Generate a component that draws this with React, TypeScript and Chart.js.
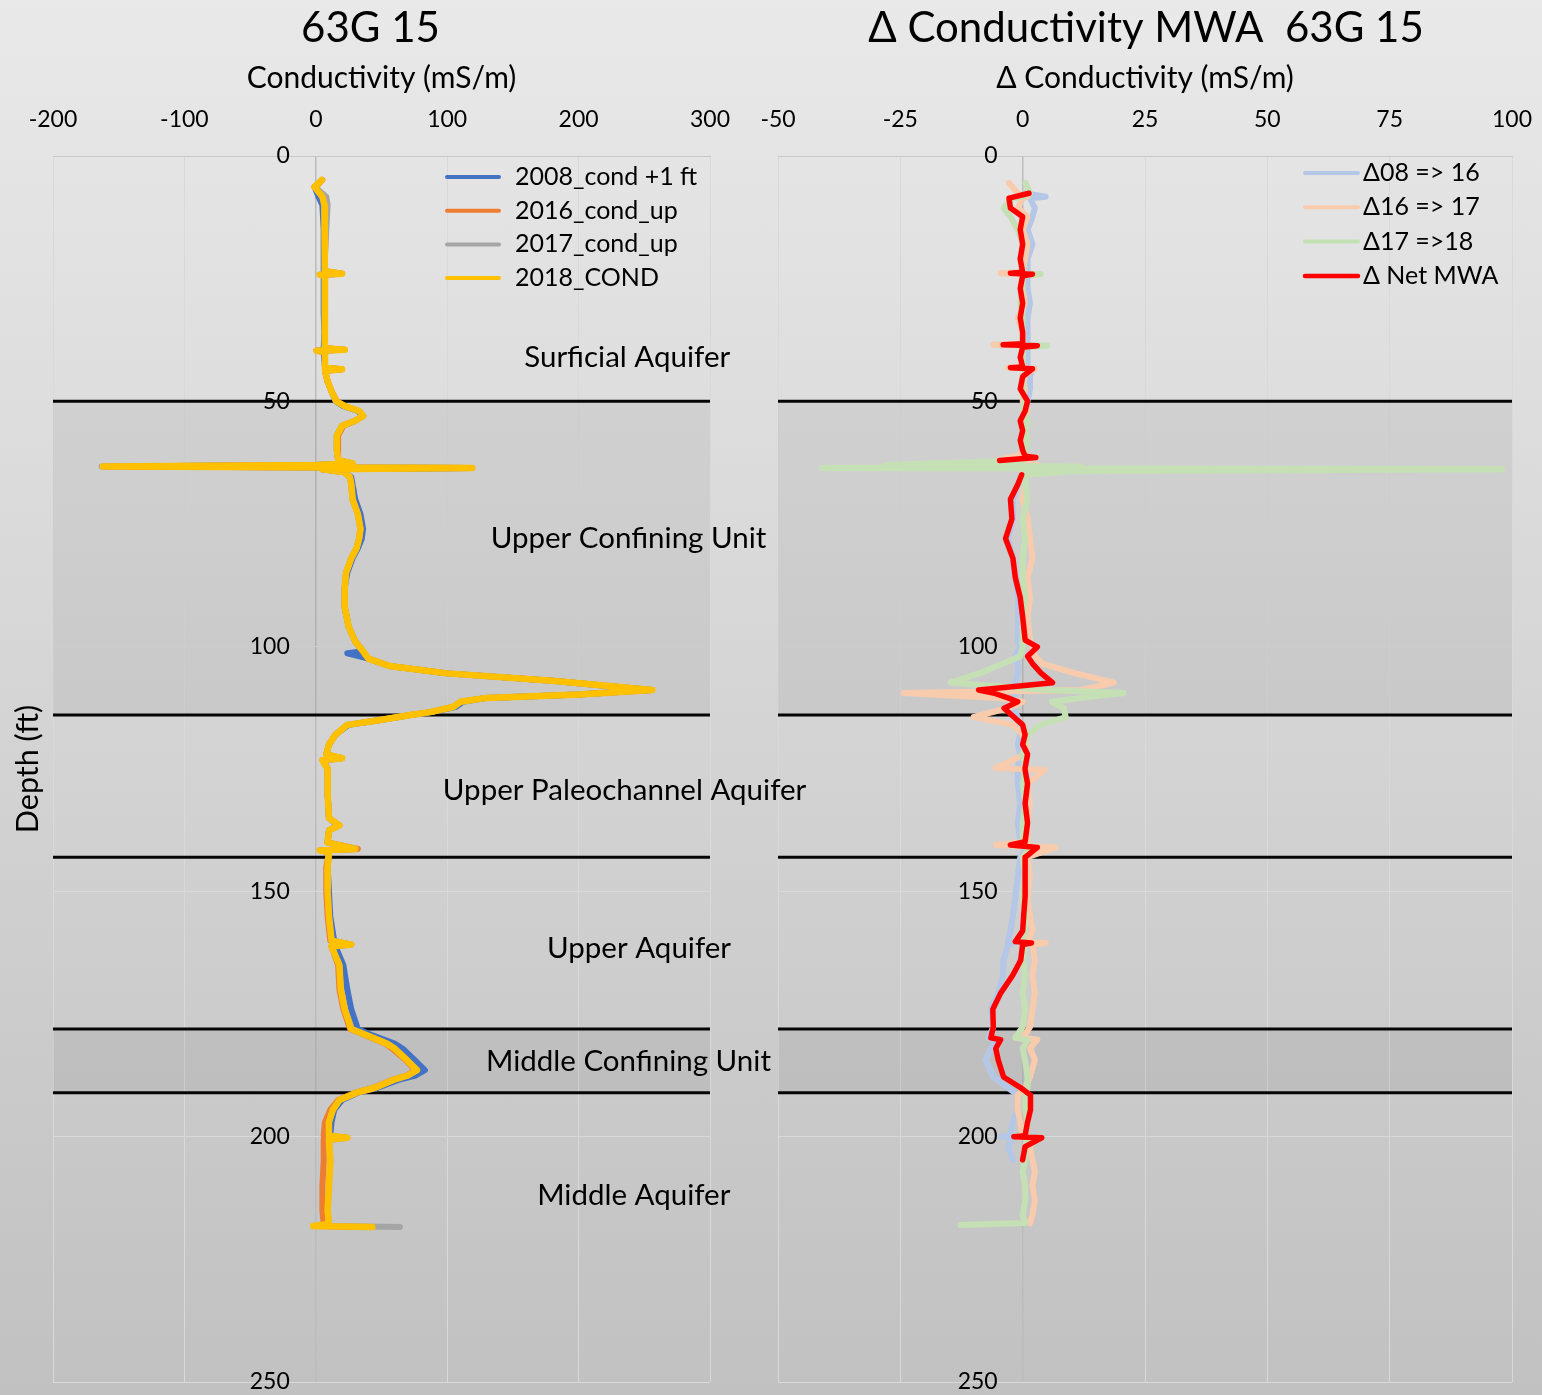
import React, { useEffect, useRef } from "react";
import { Chart, registerables } from "chart.js";

Chart.register(...registerables);

const FONT = "Lato, 'Noto Sans', sans-serif";

// ---------- Left panel: conductivity logs ----------
const L_DEPTH = [4.9, 6.3, 8.3, 10, 15, 20, 23.5, 24.0, 24.2, 24.5,
  28, 32, 36, 39.2, 39.5, 39.7, 40.0, 43.2, 43.5, 43.8,
  46, 48, 50, 51, 52, 53, 54, 55, 57, 60,
  62, 62.7, 63.0, 63.3, 63.6, 63.9, 64.5, 65.5, 67, 70,
  73, 76, 78, 80, 82, 85, 88, 92, 96, 99,
  101, 101.4, 102.5, 104, 105.5, 107, 108.9, 109.8, 110.5, 111.3,
  112.3, 113.4, 114, 115, 116, 118, 120, 122, 122.8, 123.2,
  125, 130, 135, 136.5, 137.5, 140, 141.3, 141.6, 142, 145,
  150, 155, 160, 160.8, 161.2, 165, 170, 174, 178, 179,
  181, 182, 184, 186.4, 187.5, 188.4, 190, 191, 192.5, 194.5,
  197, 199.8, 200.2, 200.6, 205, 210, 215, 217.8, 218.2, 218.4];

const COND_2008 = [null, -1, 2, 5, 6, 6, 6, 18, 4, 6,
  6, 6, 6.5, 6, 20, 1, 6, 7, 18, 7,
  9, 12, 15, 21, 32, 36, 30, 20, 16, 16,
  17, 26, 0, -160, 118, 5, 22, 27, 28, 30,
  34, 36, 35, 32, 28, 24, 22, 22, 25, 30,
  36, 24, 40, 56, 100, 180, 254, 200, 130, 112,
  107, 88, 72, 49, 25, 15, 10, 8, 18, 6,
  9, 9, 10, 17, 10, 9, 28, 4, 10, 9,
  10, 11, 14, 24, 15, 21, 24, 27, 32, 40,
  60, 66, 74, 83, 76, 63, 47, 32, 20, 14,
  12, 11, 22, 11, null, null, null, null, null, null];

const COND_2016 = [5, 0, 6, 7, 7.5, 7, 7, 20, 3, 7,
  7, 7, 7, 7, 22, 0.5, 7, 7, 20, 7,
  9, 12, 16, 22, 33, 36, 30, 21, 17, 17,
  17, 28, 0, -162, 119, 5, 22, 26, 27, 28,
  32, 34, 33, 31, 27, 23, 22, 22, 25, 30,
  36, 37, 40, 56, 100, 180, 256, 200, 130, 110,
  105, 87, 72, 49, 24, 15, 10, 8, 20, 5,
  9, 9, 10, 18, 10, 9, 32, 3, 10, 8,
  8, 9, 11, 27, 12, 17, 18, 21, 26, 35,
  53, 58, 67, 76, 69, 58, 44, 30, 17, 11,
  7, 6, 24, 6, 6, 5, 5, 6, 0, 40];

const COND_2017 = [4.5, -1, 8, 9, 8, 7, 7, 20, 3, 7,
  7, 6.5, 7, 7, 22, 0.5, 7, 7, 20, 7,
  9, 12, 15.5, 22, 33, 36, 30, 20, 16, 16,
  17, 28, 0, -163, 119, 5, 22, 26, 27, 28,
  32, 34, 33, 31, 27, 23, 22, 22, 25, 30,
  36, 37, 40, 56, 100, 180, 256, 200, 130, 110,
  105, 87, 72, 49, 24, 15, 10, 8, 20, 5,
  9, 9, 10, 18, 10, 9, 30, 3, 10, 9,
  9, 10, 12, 27, 12, 18, 19, 22, 27, 36,
  54, 60, 68, 77, 70, 59, 45, 31, 18, 13,
  10, 10, 24, 10, 11, 10, 9, 10, 10, 64];

const COND_2018 = [4.5, -1, 5, 6.5, 7, 6.5, 7, 20, 3, 7,
  7, 6.5, 7, 7, 22, 0.5, 7, 7, 20, 7,
  9, 12, 15.5, 22, 33, 36, 30, 20, 16, 16,
  17, 28, 0, -162, 119, 5, 22, 26, 27, 28,
  32, 34, 33, 31, 27, 23, 22, 22, 25, 30,
  36, 37, 40, 56, 100, 180, 256, 200, 130, 110,
  105, 87, 72, 49, 24, 15, 10, 8, 20, 5,
  9, 9, 10, 18, 10, 9, 30, 3, 10, 9,
  9, 10, 12, 27, 12, 18, 19, 22, 27, 36,
  54, 60, 68, 77, 70, 59, 45, 31, 18, 13,
  10, 10, 24, 10, 11, 10, 9, 10, -2, 43];

const L_NAMES = ["2008_cond +1 ft", "2016_cond_up", "2017_cond_up", "2018_COND"];
const L_COLORS = ["#4472c4", "#ed7d31", "#a5a5a5", "#ffc000"];
const L_X_TICKS = [-200, -100, 0, 100, 200, 300];

// ---------- Right panel: conductivity change ----------
const R_DEPTH = [5.5, 7.6, 8.3, 8.6, 10.6, 12.4, 15, 18, 21, 23.7,
  23.9, 24.1, 24.4, 27, 30, 33, 36, 38.3, 38.5, 38.7,
  39, 41, 43.0, 43.2, 43.4, 45, 47.5, 50, 52, 54,
  56, 58, 60, 61.2, 61.5, 62.1, 63.0, 63.3, 63.6, 63.9,
  64.3, 65, 67, 70, 74, 78, 82, 86, 90, 94,
  98.7, 100.1, 102, 103.5, 105.4, 107.4, 108.9, 109.5, 110.5, 111.3,
  112.6, 114.4, 116, 118, 120, 122, 124.8, 125.2, 128, 132,
  136, 139.8, 140.5, 141, 143, 147, 151, 155, 158, 160.2,
  160.5, 160.8, 164, 167, 170.7, 174, 177.6, 179.8, 180.2, 182,
  184.3, 187.8, 190, 191.5, 194.5, 197, 199.8, 200.0, 200.2, 202,
  204.7, 207, 210, 213, 216, 217.6, 218];

const DELTA_08_16 = [null, 0.5, 4.7, 1.5, 2.5, 2, 1, 2, 1, 1,
  0, 1.5, 1, 1, 1.5, 1, 1, 1, 0, 2,
  1, 1, 1, 0, 2, 1.5, 1.5, 1, 0.5, 0,
  0.5, 0, 0, 0, 0, 0, -1, 1, -1, 1,
  0, 0, -1, -2, -2, -3, -2, -1.5, -1, -1,
  -1, -0.5, -1.5, -1, -1, -1.5, -1, -1.5, -2, -2.5,
  -2, -1, -1, -0.5, -1, -0.5, -1, -1, -1, -0.5,
  -1, -0.5, -1.5, 1, -0.5, -1, -1.5, -2, -2.5, -3,
  -2, -3, -3.9, -4, -5, -6.5, -6, -7, -5.5, -6.5,
  -7.6, -6, -3, -1, -1, -2, -2.5, -4.5, -2, -3,
  -2, null, null, null, null, null, null];

const DELTA_16_17 = [-2.8, -1, 1, 0, -1, 1, 0, 1, 0.5, 0,
  -4.5, 1, 0, 0, 0.5, -1, 0, 0, -6, 1,
  0, 0, 0, -3, 2.5, 0, 0.5, 0, 1, 0,
  0.5, 0, 0, -1, -3, -5, 3, -2, 1, 0,
  0, 0, 0.5, 0, 1, 1.5, 2, 1, 1.5, 1,
  1.5, 2, 2.5, 4, 10.4, 18.6, 12, -24.3, -5, 0,
  -3, -10, -2, 0, 1, 0.5, -5.5, 4.5, 1, 1.5,
  1, 1, -5.5, 6.7, 1, 1.5, 1, 1.5, 2, 1,
  4.7, 2, 2.5, 2, 2.5, 2, 1.5, 0, 3, 1.5,
  2.5, 1.5, 0.5, -1, -1, -0.5, 0, -1, 1, 1.5,
  2, 2.5, 2, 2.5, 2, 1.5, null];

const DELTA_17_18 = [0.6, 1.5, 0, -2, -3.9, -2.5, -1, 0, -0.5, 0,
  -1, 3.7, 0, 0, -0.5, 0, 0, 0, -2, 5,
  0, 0, 0, -1, 1.5, 0, 0, 0.5, 0, 1,
  0.5, 1, 0.5, 0.5, 0.5, 0, -28, 12, -41, 98,
  10, 0.5, 0.5, 1, 0, 0.5, 0, 0, 0.5, 0,
  0, 0, -0.5, -4, -8.6, -14.7, 5, 20.6, 12, 6,
  8.4, 8.8, 3.7, 1, 0.5, 0, 0.5, 0.5, 0, 0.5,
  0, 0, -1, 1.5, 0, 0.5, 0, 0.5, 0.5, 0,
  1, 0.5, 0, 0.5, 0, 0.5, 0, -1.5, 1, 0,
  0.5, 1, 1, 0.5, 0.5, 1, 0.5, 0, 1, 0.5,
  0.5, 0, 0.5, 0.5, 0, 0.5, -12.7];

const DELTA_NET = [null, 1.3, -1.5, -2.8, -2.5, 0, -0.5, 0, -0.5, 0,
  -2.5, 2, 0, -0.5, 0, -0.5, 0, 0, -4, 3,
  0, -0.5, 0, -2.5, 2, 0, -0.5, 1, 0.5, -0.5,
  0, -0.5, 0, 0.5, 2.7, -4.7, null, null, null, null,
  null, -0.2, -1, -2.5, -2.2, -3.5, -2, -1.5, -0.5, 0,
  0.5, 3, 1, 2, 3.7, 6.1, -9, -6, -3, -1,
  -3.8, -1.8, 0, 0.5, 0, 1, 0.5, 0.5, 1, 0.5,
  1, 0.5, -2.5, 3, 0.5, 0.5, 0.5, 0.2, 0, -1.5,
  1.8, 0, -0.4, -2, -4.5, -6.1, -6, -6.5, -4.5, -5.5,
  -5, -3.9, -0.4, 1.6, 1.6, 1, 0.5, -1.8, 3.9, 0.5,
  0, null, null, null, null, null, null];

const R_NAMES = ["\u039408 => 16", "\u039416 => 17", "\u039417 =>18", "\u0394 Net MWA"];
const R_COLORS = ["#b4c7e7", "#f8cbad", "#c5e0b4", "#ff0000"];
const R_X_TICKS = [-50, -25, 0, 25, 50, 75, 100];

// ---------- shared ----------
const DEPTH_TICKS = [0, 50, 100, 150, 200, 250];
const ZONE_LINES = [50, 114, 143, 178, 191];
const SHADE_FROM = [50, 178];
const SHADE_TO = [114, 191];
const ZONE_NAMES = ["Surficial Aquifer", "Upper Confining Unit", "Upper Paleochannel Aquifer",
  "Upper Aquifer", "Middle Confining Unit", "Middle Aquifer"];
const ZONE_X = [237, 238, 235, 246, 238, 242];
const ZONE_DEPTH = [41, 77.9, 129.3, 161.5, 184.7, 211.9];

const TITLE_L = "63G 15";
const TITLE_R = "\u0394 Conductivity MWA  63G 15";
const AXIS_L = "Conductivity (mS/m)";
const AXIS_R = "\u0394 Conductivity (mS/m)";
const DEPTH_TITLE = "Depth (ft)";

function toPoints(vals: (number | null)[], depths: number[]) {
  return depths.map((d, i) => ({ x: vals[i], y: d }));
}

interface Decor {
  title: string;
  titleDx: number;
  names: string[];
  colors: string[];
  legWidths: number[];
  legLineL: number;
  legLineR: number;
  legText: number;
  legTop: number;
  legStep: number;
  zones: boolean;
  depthLabel: boolean;
}

function makeDecor(cfg: Decor) {
  return {
    id: "decor",
    beforeDatasetsDraw(chart: any) {
      const { ctx, chartArea: a, scales } = chart;
      const ys = scales.y;
      ctx.save();
      ctx.fillStyle = "rgba(0,0,0,0.055)";
      SHADE_FROM.forEach((d0, i) => {
        const y0 = ys.getPixelForValue(d0);
        const y1 = ys.getPixelForValue(SHADE_TO[i]);
        ctx.fillRect(a.left, y0, a.right - a.left, y1 - y0);
      });
      ctx.strokeStyle = "#050505";
      ctx.lineWidth = 3;
      ZONE_LINES.forEach((d) => {
        const y = ys.getPixelForValue(d);
        ctx.beginPath();
        ctx.moveTo(a.left, y);
        ctx.lineTo(a.right, y);
        ctx.stroke();
      });
      ctx.restore();
    },
    afterDraw(chart: any) {
      const { ctx, chartArea: a, scales } = chart;
      ctx.save();
      ctx.fillStyle = "#000";
      ctx.textAlign = "center";
      ctx.textBaseline = "middle";
      ctx.font = `42px ${FONT}`;
      ctx.fillText(cfg.title, (a.left + a.right) / 2 + cfg.titleDx, 28);

      ctx.font = `25px ${FONT}`;
      ctx.textAlign = "left";
      ctx.lineCap = "round";
      cfg.names.forEach((n, i) => {
        const y = a.top + cfg.legTop + i * cfg.legStep;
        ctx.strokeStyle = cfg.colors[i];
        ctx.lineWidth = cfg.legWidths[i];
        ctx.beginPath();
        ctx.moveTo(a.right - cfg.legLineL, y);
        ctx.lineTo(a.right - cfg.legLineR, y);
        ctx.stroke();
        ctx.fillText(n, a.right - cfg.legText, y);
      });

      if (cfg.zones) {
        ctx.textAlign = "center";
        ctx.font = `29.5px ${FONT}`;
        ZONE_NAMES.forEach((n, i) => {
          ctx.fillText(n, scales.x.getPixelForValue(ZONE_X[i]), scales.y.getPixelForValue(ZONE_DEPTH[i]));
        });
      }
      if (cfg.depthLabel) {
        ctx.font = `30.5px ${FONT}`;
        ctx.textAlign = "center";
        ctx.translate(28, (a.top + a.bottom) / 2);
        ctx.rotate(-Math.PI / 2);
        ctx.fillText(DEPTH_TITLE, 0, 0);
      }
      ctx.restore();
    },
  };
}

function buildOptions(min: number, max: number, xTicks: number[], axisTitle: string, padding: any, labelShift: number) {
  return {
    responsive: false,
    animation: false,
    devicePixelRatio: 1,
    layout: { padding },
    plugins: {
      legend: { display: false },
      tooltip: { enabled: false },
      title: { display: false },
    },
    scales: {
      x: {
        type: "linear",
        position: "top",
        min,
        max,
        afterBuildTicks: (s: any) => {
          s.ticks = xTicks.map((v) => ({ value: v }));
        },
        afterFit: (s: any) => {
          s.height = 156;
        },
        grid: {
          color: (c: any) => (c.tick && c.tick.value === 0 ? "#bcbcbc" : "#d9d9d9"),
          lineWidth: (c: any) => (c.tick && c.tick.value === 0 ? 1.5 : 1),
          drawTicks: false,
        },
        border: { display: true, color: "#c8c8c8", width: 1 },
        ticks: {
          font: { family: FONT, size: 23 },
          color: "#000",
          padding: 23,
          maxRotation: 0,
          autoSkip: false,
        },
        title: {
          display: true,
          text: axisTitle,
          font: { family: FONT, size: 30 },
          color: "#000",
          padding: { top: 60, bottom: 0 },
        },
      },
      y: {
        type: "linear",
        position: { x: labelShift },
        reverse: true,
        min: 0,
        max: 250,
        afterBuildTicks: (s: any) => {
          s.ticks = DEPTH_TICKS.map((v) => ({ value: v }));
        },
        grid: { color: "#d9d9d9", lineWidth: 1, drawTicks: false },
        border: { display: false },
        ticks: { font: { family: FONT, size: 23 }, color: "#000", padding: 0 },
      },
    },
  };
}

function dataset(label: string, vals: (number | null)[], depths: number[], color: string, width: number, order: number) {
  return {
    label,
    data: toPoints(vals, depths),
    showLine: true,
    borderColor: color,
    backgroundColor: color,
    borderWidth: width,
    pointRadius: 0,
    tension: 0,
    borderJoinStyle: "round",
    borderCapStyle: "round",
    spanGaps: false,
    order,
  };
}

export default function App() {
  const leftRef = useRef<HTMLCanvasElement | null>(null);
  const rightRef = useRef<HTMLCanvasElement | null>(null);

  useEffect(() => {
    const left = new Chart(leftRef.current as HTMLCanvasElement, {
      type: "scatter",
      data: {
        datasets: [
          dataset(L_NAMES[0], COND_2008, L_DEPTH, L_COLORS[0], 6, 3),
          dataset(L_NAMES[1], COND_2016, L_DEPTH, L_COLORS[1], 6, 2),
          dataset(L_NAMES[2], COND_2017, L_DEPTH, L_COLORS[2], 6, 1),
          dataset(L_NAMES[3], COND_2018, L_DEPTH, L_COLORS[3], 6.5, 0),
        ],
      } as any,
      options: buildOptions(-200, 300, L_X_TICKS, AXIS_L, { left: 53, right: 120, top: 0, bottom: 53 }, -19.8) as any,
      plugins: [
        makeDecor({
          title: TITLE_L,
          titleDx: -11,
          names: L_NAMES,
          colors: L_COLORS,
          legWidths: [4, 4, 4, 4],
          legLineL: 263,
          legLineR: 211,
          legText: 195,
          legTop: 21,
          legStep: 33.7,
          zones: true,
          depthLabel: true,
        }),
      ],
    });
    const right = new Chart(rightRef.current as HTMLCanvasElement, {
      type: "scatter",
      data: {
        datasets: [
          dataset(R_NAMES[0], DELTA_08_16, R_DEPTH, R_COLORS[0], 6, 3),
          dataset(R_NAMES[1], DELTA_16_17, R_DEPTH, R_COLORS[1], 6, 2),
          dataset(R_NAMES[2], DELTA_17_18, R_DEPTH, R_COLORS[2], 6, 1),
          dataset(R_NAMES[3], DELTA_NET, R_DEPTH, R_COLORS[3], 5.5, 0),
        ],
      } as any,
      options: buildOptions(-50, 100, R_X_TICKS, AXIS_R, { left: 48, right: 50, top: 0, bottom: 53 }, -5.1) as any,
      plugins: [
        makeDecor({
          title: TITLE_R,
          titleDx: 1,
          names: R_NAMES,
          colors: R_COLORS,
          legWidths: [4, 4, 4, 4.5],
          legLineL: 207,
          legLineR: 154,
          legText: 149,
          legTop: 17,
          legStep: 34.3,
          zones: false,
          depthLabel: false,
        }),
      ],
    });
    return () => {
      left.destroy();
      right.destroy();
    };
  }, []);

  return (
    <div
      style={{
        position: "absolute",
        left: 0,
        top: 0,
        width: 1542,
        height: 1395,
        overflow: "hidden",
        background: "linear-gradient(to bottom, #e9e9e9 0%, #c1c1c1 100%)",
      }}
    >
      <canvas
        ref={rightRef}
        width={832}
        height={1435}
        style={{ position: "absolute", left: 730, top: 0, width: 832, height: 1435, zIndex: 1 }}
      />
      <canvas
        ref={leftRef}
        width={830}
        height={1435}
        style={{ position: "absolute", left: 0, top: 0, width: 830, height: 1435, zIndex: 2 }}
      />
    </div>
  );
}
